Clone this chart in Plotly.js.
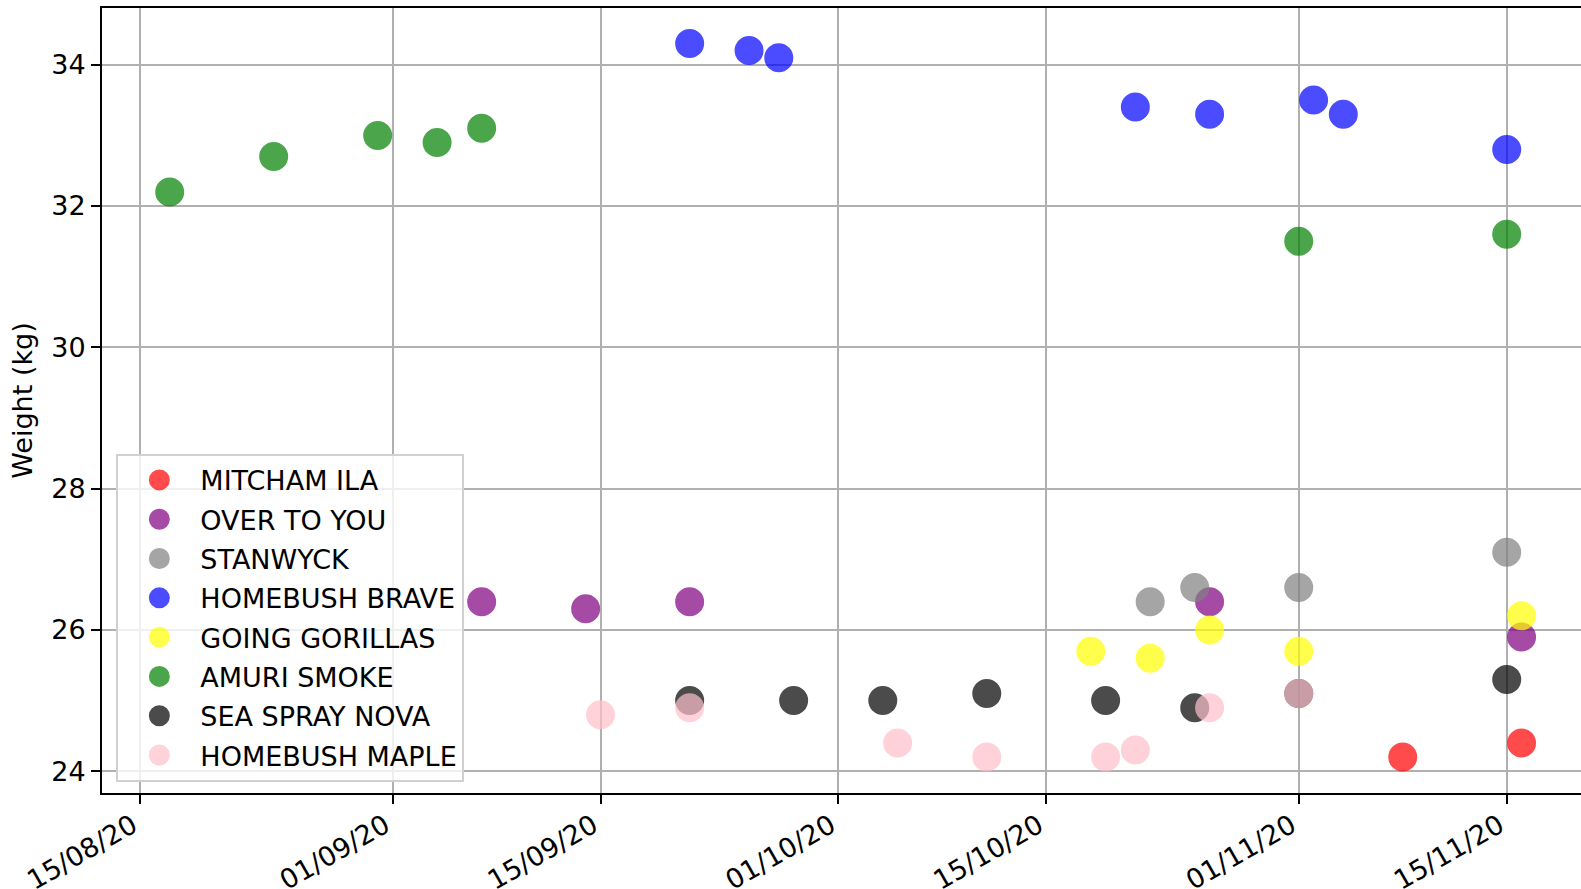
<!DOCTYPE html>
<html>
<head>
<meta charset="utf-8">
<script src="https://cdn.plot.ly/plotly-3.0.1.min.js"></script>
<style>
html,body{margin:0;padding:0;background:#fff;overflow:hidden;}
#chart{width:1581px;height:889px;}
</style>
</head>
<body>
<div id="chart"></div>
<script>
// ---- data ----
const horses = ["MITCHAM ILA","OVER TO YOU","STANWYCK","HOMEBUSH BRAVE","GOING GORILLAS","AMURI SMOKE","SEA SPRAY NOVA","HOMEBUSH MAPLE"];
const horseColors = ["#ff0000","#800080","#808080","#0000ff","#ffff00","#008000","#000000","#ffc0cb"];

const mitchamDates = ["2020-11-08","2020-11-16"];
const mitchamWeights = [24.2,24.4];

const overDates = ["2020-09-07","2020-09-14","2020-09-21","2020-10-26","2020-11-16"];
const overWeights = [26.4,26.3,26.4,26.4,25.9];

const stanwyckDates = ["2020-10-22","2020-10-25","2020-11-01","2020-11-15"];
const stanwyckWeights = [26.4,26.6,26.6,27.1];

const braveDates = ["2020-09-21","2020-09-25","2020-09-27","2020-10-21","2020-10-26","2020-11-02","2020-11-04","2020-11-15"];
const braveWeights = [34.3,34.2,34.1,33.4,33.3,33.5,33.3,32.8];

const gorillasDates = ["2020-10-18","2020-10-22","2020-10-26","2020-11-01","2020-11-16"];
const gorillasWeights = [25.7,25.6,26.0,25.7,26.2];

const amuriDates = ["2020-08-17","2020-08-24","2020-08-31","2020-09-04","2020-09-07","2020-11-01","2020-11-15"];
const amuriWeights = [32.2,32.7,33.0,32.9,33.1,31.5,31.6];

const novaDates = ["2020-09-21","2020-09-28","2020-10-04","2020-10-11","2020-10-19","2020-10-25","2020-11-01","2020-11-15"];
const novaWeights = [25.0,25.0,25.0,25.1,25.0,24.9,25.1,25.3];

const mapleDates = ["2020-09-15","2020-09-21","2020-10-05","2020-10-11","2020-10-19","2020-10-21","2020-10-26","2020-11-01"];
const mapleWeights = [24.8,24.9,24.4,24.2,24.2,24.3,24.9,25.1];

const tickDates = ["2020-08-15","2020-09-01","2020-09-15","2020-10-01","2020-10-15","2020-11-01","2020-11-15"];
const tickLabels = ["15/08/20","01/09/20","15/09/20","01/10/20","15/10/20","01/11/20","15/11/20"];
const yTicks = [24,26,28,30,32,34];

const seriesDates = [mitchamDates,overDates,stanwyckDates,braveDates,gorillasDates,amuriDates,novaDates,mapleDates];
const seriesWeights = [mitchamWeights,overWeights,stanwyckWeights,braveWeights,gorillasWeights,amuriWeights,novaWeights,mapleWeights];

// ---- traces ----
const traces = horses.map((name,i)=>({
  type:"scatter", mode:"markers", name:name,
  x: seriesDates[i], y: seriesWeights[i],
  legendgroup: "g"+i,
  marker:{size:24, color:horseColors[i], opacity:0.7, line:{width:5,color:horseColors[i]}},
  hoverinfo:"x+y+name"
}));

const font = {family:"DejaVu Sans, sans-serif", size:27, color:"#000"};

const layout = {
  width:1581, height:889,
  margin:{l:102, r:0, t:7.5, b:96, pad:0},
  paper_bgcolor:"#fff", plot_bgcolor:"#fff",
  font: font,
  showlegend:true,
  legend:{
    x:0.0097, y:0.432, xanchor:"left", yanchor:"top",
    bgcolor:"rgba(255,255,255,0.8)", bordercolor:"#d0d0d0", borderwidth:2,
    font:{family:"DejaVu Sans, sans-serif", size:27, color:"#000"},
    itemwidth:72, tracegroupgap:1.2
  },
  xaxis:{
    type:"date",
    range:["2020-08-12 10:38","2020-11-20 00:00"],
    tickmode:"array", tickvals:tickDates,
    ticktext:tickLabels.map(t=>t+"\u00a0"),
    tickangle:-30,
    ticklabelstandoff:-9,
    ticks:"outside", ticklen:9, tickwidth:2, tickcolor:"#000",
    showgrid:true, gridcolor:"#b0b0b0", gridwidth:2,
    showline:true, linecolor:"#000", linewidth:2, mirror:true,
    zeroline:false,
    tickfont:font
  },
  yaxis:{
    range:[23.692,34.803],
    tickmode:"array", tickvals:yTicks,
    ticks:"outside", ticklen:9, tickwidth:2, tickcolor:"#000",
    showgrid:true, gridcolor:"#b0b0b0", gridwidth:2,
    showline:true, linecolor:"#000", linewidth:2, mirror:false,
    zeroline:false,
    tickfont:font,
    title:{text:"Weight (kg)", font:font, standoff:11}
  }
};

Plotly.newPlot("chart", traces, layout, {displayModeBar:false, staticPlot:true});
</script>
</body>
</html>
